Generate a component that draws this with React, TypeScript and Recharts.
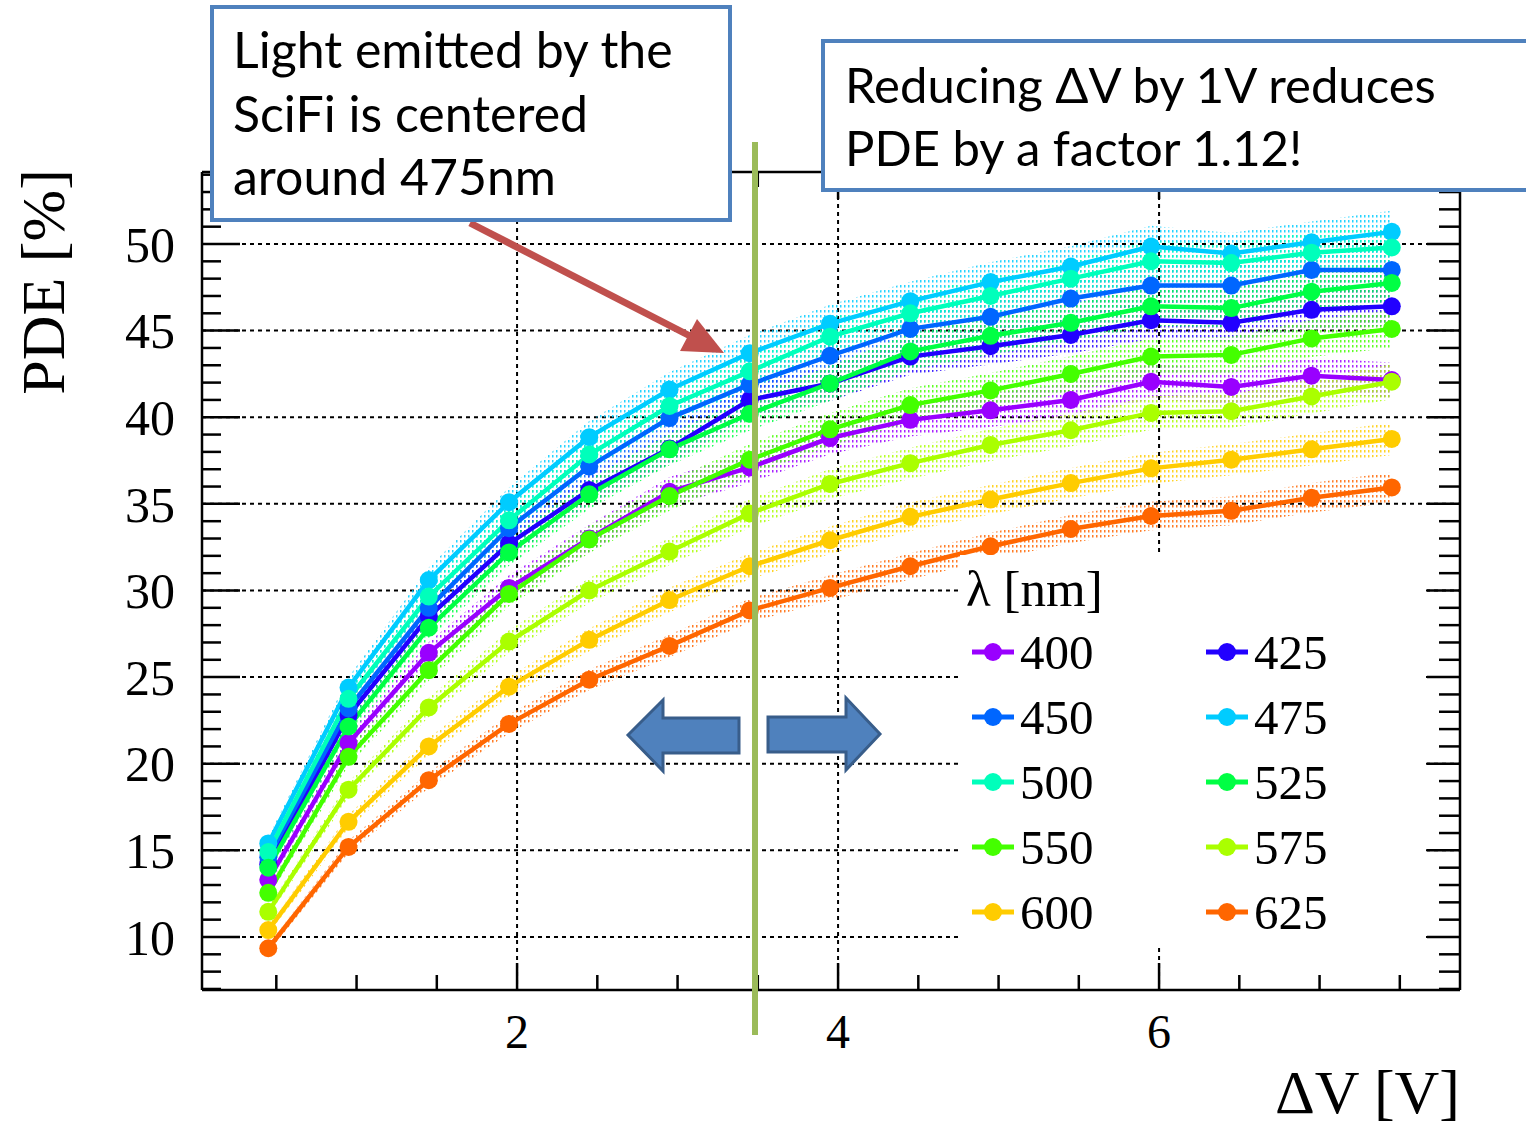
import React from 'react';
import { ComposedChart, Line, Area, XAxis, YAxis, CartesianGrid } from 'recharts';

// bias over breakdown, V
const DV = [0.45, 0.95, 1.45, 1.95, 2.45, 2.95, 3.45, 3.95, 4.45, 4.95, 5.45, 5.95, 6.45, 6.95, 7.45];

// PDE [%] per wavelength
const PDE_400 = [13.3, 21.2, 26.4, 30.15, 33.0, 35.7, 37.1, 38.8, 39.85, 40.4, 41.0, 42.05, 41.75, 42.4, 42.15];
const PDE_425 = [14.2, 22.8, 28.5, 32.7, 35.8, 38.2, 41.0, 41.95, 43.5, 44.1, 44.75, 45.6, 45.45, 46.2, 46.4];
const PDE_450 = [14.6, 23.2, 29.0, 33.6, 37.15, 39.95, 41.9, 43.55, 45.1, 45.8, 46.85, 47.6, 47.6, 48.5, 48.5];
const PDE_475 = [15.4, 24.4, 30.6, 35.1, 38.85, 41.6, 43.7, 45.4, 46.7, 47.8, 48.7, 49.85, 49.45, 50.1, 50.7];
const PDE_500 = [14.9, 23.75, 29.65, 34.05, 37.85, 40.65, 42.65, 44.65, 46.0, 47.0, 48.0, 49.0, 48.9, 49.5, 49.8];
const PDE_525 = [14.0, 22.15, 27.85, 32.2, 35.55, 38.15, 40.2, 41.95, 43.8, 44.7, 45.45, 46.4, 46.3, 47.25, 47.75];
const PDE_550 = [12.55, 20.4, 25.4, 29.8, 32.95, 35.45, 37.55, 39.3, 40.7, 41.55, 42.5, 43.5, 43.6, 44.55, 45.1];
const PDE_575 = [11.45, 18.5, 23.25, 27.05, 30.0, 32.25, 34.45, 36.15, 37.35, 38.4, 39.25, 40.25, 40.35, 41.2, 42.05];
const PDE_600 = [10.4, 16.65, 21.0, 24.45, 27.15, 29.45, 31.4, 32.9, 34.25, 35.25, 36.2, 37.05, 37.55, 38.15, 38.75];
const PDE_625 = [9.35, 15.2, 19.05, 22.3, 24.85, 26.8, 28.85, 30.15, 31.4, 32.55, 33.55, 34.3, 34.6, 35.35, 35.95];

const WAVELENGTHS = [400, 425, 450, 475, 500, 525, 550, 575, 600, 625];
const COLORS = ['#9900ff', '#2200ff', '#0066ff', '#00ccff', '#00ffbb', '#00ff44', '#44ff00', '#aaff00', '#ffcc00', '#ff6600'];
const PDES = [PDE_400, PDE_425, PDE_450, PDE_475, PDE_500, PDE_525, PDE_550, PDE_575, PDE_600, PDE_625];

// relative systematic uncertainty shown as the dotted band
const BAND = 0.024;

const X_MAJOR = [2, 4, 6];
const X_MINOR = [0.5, 1, 1.5, 2.5, 3, 3.5, 4.5, 5, 5.5, 6.5, 7, 7.5];
const Y_MAJOR = [10, 15, 20, 25, 30, 35, 40, 45, 50];
const Y_MINOR = [7, 8, 9, 11, 12, 13, 14, 16, 17, 18, 19, 21, 22, 23, 24, 26, 27, 28, 29, 31, 32, 33, 34, 36, 37, 38, 39, 41, 42, 43, 44, 46, 47, 48, 49, 51, 52, 53, 54];

const X_DOMAIN = [0.037, 7.875];
const Y_DOMAIN = [6.94, 54.156];

const SERIF = '"Liberation Serif", "DejaVu Serif", serif';
const SANS = 'Lato, "Open Sans", sans-serif';
const FRAME = { stroke: '#000', strokeWidth: 2.5 };

// tick-only axes: keep the tick lines, draw no label
const noLabel = () => <g />;

const rows = DV.map((dv, i) => {
  const r: any = { dv };
  WAVELENGTHS.forEach((w, k) => {
    const v = PDES[k][i];
    r[`s${w}`] = v;
    r[`b${w}`] = [v * (1 - BAND), v * (1 + BAND)];
  });
  return r;
});

function Overlay() {
  const legendRows = [0, 1, 2, 3, 4];
  return (
    <svg width={1526} height={1125} style={{ position: 'absolute', left: 0, top: 0, pointerEvents: 'none' }}>
      {/* legend */}
      <rect x={960} y={555} width={465} height={390} fill="#fff" />
      <text x={966} y={606} fontFamily={SERIF} fontSize={51} fill="#000">λ [nm]</text>
      {legendRows.map(r =>
        [0, 1].map(c => {
          const k = r * 2 + c;
          const x0 = c === 0 ? 972 : 1206;
          const cy = 652 + r * 65;
          return (
            <g key={k}>
              <line x1={x0} x2={x0 + 42} y1={cy} y2={cy} stroke={COLORS[k]} strokeWidth={5} />
              <circle cx={x0 + 21} cy={cy} r={9} fill={COLORS[k]} />
              <text x={x0 + 48} y={cy + 17} fontFamily={SERIF} fontSize={49} fill="#000">{WAVELENGTHS[k]}</text>
            </g>
          );
        })
      )}

      {/* axis titles */}
      <text transform="translate(64,282) rotate(-90)" textAnchor="middle" fontFamily={SERIF} fontSize={62} fill="#000">PDE [%]</text>
      <text x={1460} y={1113} textAnchor="end" fontFamily={SERIF} fontSize={62} fill="#000">ΔV [V]</text>

      {/* operating point marker */}
      <line x1={755} x2={755} y1={142} y2={1035} stroke="#9bbb59" strokeWidth={6} />

      {/* red arrow */}
      <line x1={470} y1={223} x2={692} y2={337} stroke="#c0504d" strokeWidth={7} />
      <polygon points="724,353 680,351 697,319" fill="#c0504d" />

      {/* blue arrows */}
      <polygon points="628,735 663,700 663,718 739,718 739,753 663,753 663,771" fill="#4f81bd" stroke="#385d8a" strokeWidth={3} />
      <polygon points="880,734 846,698 846,717 768,717 768,752 846,752 846,770" fill="#4f81bd" stroke="#385d8a" strokeWidth={3} />

      {/* text boxes */}
      <rect x={212} y={7} width={518} height={213} fill="#fff" stroke="#4f81bd" strokeWidth={4} />
      <text fontFamily={SANS} fontSize={50} fill="#000">
        <tspan x={233} y={68}>Light emitted by the</tspan>
        <tspan x={233} y={132}>SciFi is centered</tspan>
        <tspan x={233} y={195}>around 475nm</tspan>
      </text>
      <rect x={823} y={41} width={720} height={149} fill="#fff" stroke="#4f81bd" strokeWidth={4} />
      <text fontFamily={SANS} fontSize={49} fill="#000">
        <tspan x={845} y={103}>Reducing ΔV by 1V reduces</tspan>
        <tspan x={845} y={166}>PDE by a factor 1.12!</tspan>
      </text>
    </svg>
  );
}

export default function App() {
  return (
    <div style={{ position: 'absolute', left: 0, top: 0, width: 1526, height: 1125, background: '#fff' }}>
      <ComposedChart width={1526} height={1125} data={rows} margin={{ top: 172, right: 66, bottom: 75, left: 102 }}>
        <defs>
          {WAVELENGTHS.map((w, k) => (
            <pattern key={w} id={`pat${w}`} width={4} height={5} patternUnits="userSpaceOnUse">
              <rect width={1.5} height={2.5} fill={COLORS[k]} />
            </pattern>
          ))}
        </defs>
        <XAxis xAxisId="x" dataKey="dv" type="number" domain={X_DOMAIN} allowDataOverflow ticks={X_MAJOR} interval={0}
          height={60} tickSize={0} tickMargin={24} tickLine={false} axisLine={FRAME}
          tick={{ fontFamily: SERIF, fontSize: 48, fill: '#000' }} />
        <XAxis xAxisId="xMaj" dataKey="dv" type="number" domain={X_DOMAIN} allowDataOverflow ticks={X_MAJOR} interval={0}
          height={1} mirror tick={noLabel} axisLine={false} tickSize={27} tickLine={FRAME} />
        <XAxis xAxisId="xMin" dataKey="dv" type="number" domain={X_DOMAIN} allowDataOverflow ticks={X_MINOR} interval={0}
          height={1} mirror tick={noLabel} axisLine={false} tickSize={14} tickLine={FRAME} />
        <XAxis xAxisId="xTopMaj" dataKey="dv" orientation="top" type="number" domain={X_DOMAIN} allowDataOverflow ticks={X_MAJOR} interval={0}
          height={1} mirror tick={noLabel} axisLine={FRAME} tickSize={27} tickLine={FRAME} />
        <XAxis xAxisId="xTopMin" dataKey="dv" orientation="top" type="number" domain={X_DOMAIN} allowDataOverflow ticks={X_MINOR} interval={0}
          height={1} mirror tick={noLabel} axisLine={false} tickSize={14} tickLine={FRAME} />

        <YAxis yAxisId="y" type="number" domain={Y_DOMAIN} allowDataOverflow ticks={Y_MAJOR} interval={0}
          width={100} tickSize={0} tickMargin={27} tickLine={false} axisLine={FRAME}
          tick={{ fontFamily: SERIF, fontSize: 50, fill: '#000' }} />
        <YAxis yAxisId="yMaj" type="number" domain={Y_DOMAIN} allowDataOverflow ticks={Y_MAJOR} interval={0}
          width={1} mirror tick={noLabel} axisLine={false} tickSize={38} tickLine={FRAME} />
        <YAxis yAxisId="yMin" type="number" domain={Y_DOMAIN} allowDataOverflow ticks={Y_MINOR} interval={0}
          width={1} mirror tick={noLabel} axisLine={false} tickSize={18} tickLine={FRAME} />
        <YAxis yAxisId="yRMaj" orientation="right" type="number" domain={Y_DOMAIN} allowDataOverflow ticks={Y_MAJOR} interval={0}
          width={1} mirror tick={noLabel} axisLine={FRAME} tickSize={33} tickLine={FRAME} />
        <YAxis yAxisId="yRMin" orientation="right" type="number" domain={Y_DOMAIN} allowDataOverflow ticks={Y_MINOR} interval={0}
          width={1} mirror tick={noLabel} axisLine={false} tickSize={20} tickLine={FRAME} />

        <CartesianGrid xAxisId="x" yAxisId="y" syncWithTicks stroke="#000" strokeWidth={2} strokeDasharray="4 4" />

        {WAVELENGTHS.map((w, k) => (
          <Area key={`b${w}`} xAxisId="x" yAxisId="y" type="linear" dataKey={`b${w}`} stroke="none"
            fill={`url(#pat${w})`} fillOpacity={0.85} dot={false} activeDot={false} isAnimationActive={false} />
        ))}
        {WAVELENGTHS.map((w, k) => (
          <Line key={`s${w}`} xAxisId="x" yAxisId="y" type="linear" dataKey={`s${w}`} stroke={COLORS[k]} strokeWidth={4.5}
            dot={{ r: 9, fill: COLORS[k], stroke: COLORS[k], strokeWidth: 0 }} activeDot={false} isAnimationActive={false} />
        ))}
      </ComposedChart>
      <Overlay />
    </div>
  );
}
